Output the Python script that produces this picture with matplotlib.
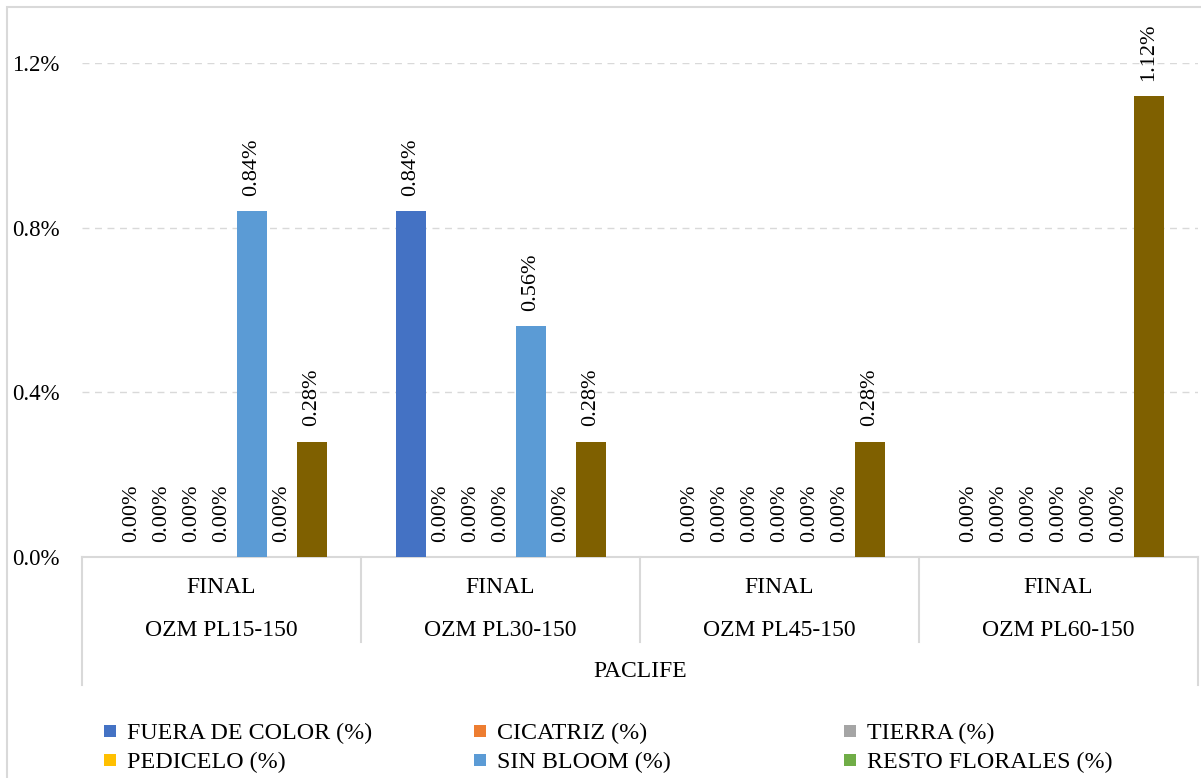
import matplotlib.pyplot as plt
from matplotlib.patches import Rectangle
import numpy as np

plt.rcParams['font.family'] = ['Liberation Serif', 'DejaVu Serif']

# Data: one value per group for each defect series (in %)
groups = ['OZM PL15-150', 'OZM PL30-150', 'OZM PL45-150', 'OZM PL60-150']
stage = ['FINAL', 'FINAL', 'FINAL', 'FINAL']
company = 'PACLIFE'
series_names = ['FUERA DE COLOR (%)', 'CICATRIZ (%)', 'TIERRA (%)',
                'PEDICELO (%)', 'SIN BLOOM (%)', 'RESTO FLORALES (%)', 'OTROS (%)']
fuera_color = [0.00, 0.84, 0.00, 0.00]
cicatriz = [0.00, 0.00, 0.00, 0.00]
tierra = [0.00, 0.00, 0.00, 0.00]
pedicelo = [0.00, 0.00, 0.00, 0.00]
sin_bloom = [0.84, 0.56, 0.00, 0.00]
resto_florales = [0.00, 0.00, 0.00, 0.00]
otros = [0.28, 0.28, 0.28, 1.12]
series = [fuera_color, cicatriz, tierra, pedicelo, sin_bloom, resto_florales, otros]
colors = ['#4472C4', '#ED7D31', '#A5A5A5', '#FFC000', '#5B9BD5', '#70AD47', '#7F6000']
yticks = [0.0, 0.4, 0.8, 1.2]

W, H = 1201, 778
fig = plt.figure(figsize=(W / 100, H / 100), dpi=100)

def fy(py):
    return 1 - py / H

# outer chart border
fig.patches.append(Rectangle((7 / W, -0.1), 1.2, 1 - 7 / H + 0.1, transform=fig.transFigure,
                             fill=False, edgecolor='#D9D9D9', linewidth=1.5))

ax = fig.add_axes([82 / W, fy(557), (1198 - 82) / W, (557 - 63) / H])
n = len(series)
bw = 30 / 279
x = np.arange(len(groups))
for i, (vals, col) in enumerate(zip(series, colors)):
    pos = x + (i - (n - 1) / 2) * bw
    ax.bar(pos, vals, width=bw, color=col, zorder=3)
    for px, v in zip(pos, vals):
        ax.annotate(f'{v:.2f}%', (px, v), xytext=(0, 11), textcoords='offset points',
                    rotation=90, ha='center', va='bottom', fontsize=16,
                    annotation_clip=False, zorder=4)

ax.set_xlim(-0.5, len(groups) - 0.5)
ax.set_ylim(0, 1.2)
ax.set_yticks(yticks)
ax.set_yticklabels([f'{t:.1f}%' for t in yticks], fontsize=16.5)
ax.tick_params(axis='y', length=0, pad=16)
ax.set_xticks([])
ax.yaxis.grid(True, color='#D9D9D9', linestyle=(0, (5, 4)), linewidth=1, zorder=0)
for s in ['top', 'right', 'left']:
    ax.spines[s].set_visible(False)
ax.spines['bottom'].set_color('#D9D9D9')
ax.spines['bottom'].set_linewidth(1.5)

# multi-level category axis: separators, stage row, group row, company row
tr = ax.get_xaxis_transform()
for g in range(len(groups) + 1):
    bottom = 685 if g in (0, len(groups)) else 642
    xb = g - 0.5
    ax.plot([xb, xb], [0, -(bottom - 557) / 494], transform=tr, color='#D9D9D9',
            linewidth=1.5, clip_on=False)
for g, (st, name) in enumerate(zip(stage, groups)):
    ax.text(g, -(593 - 557) / 494, st, transform=tr, ha='center', va='baseline', fontsize=17)
    ax.text(g, -(636 - 557) / 494, name, transform=tr, ha='center', va='baseline', fontsize=17)
ax.text(0.5, -(677 - 557) / 494, company, transform=ax.transAxes, ha='center',
        va='baseline', fontsize=17)

# legend laid out in fixed columns, row by row
col_x = [104, 474, 844]
row_y = [731, 760]
for i, (name, col) in enumerate(zip(series_names[:6], colors[:6])):
    r, c = divmod(i, 3)
    x0, y0 = col_x[c], row_y[r]
    fig.patches.append(Rectangle((x0 / W, fy(y0 + 6)), 12 / W, 12 / H,
                                 transform=fig.transFigure, facecolor=col, edgecolor='none'))
    fig.text((x0 + 23) / W, fy(y0), name, ha='left', va='center_baseline', fontsize=17.3)

fig.savefig('out.png', dpi=100)
